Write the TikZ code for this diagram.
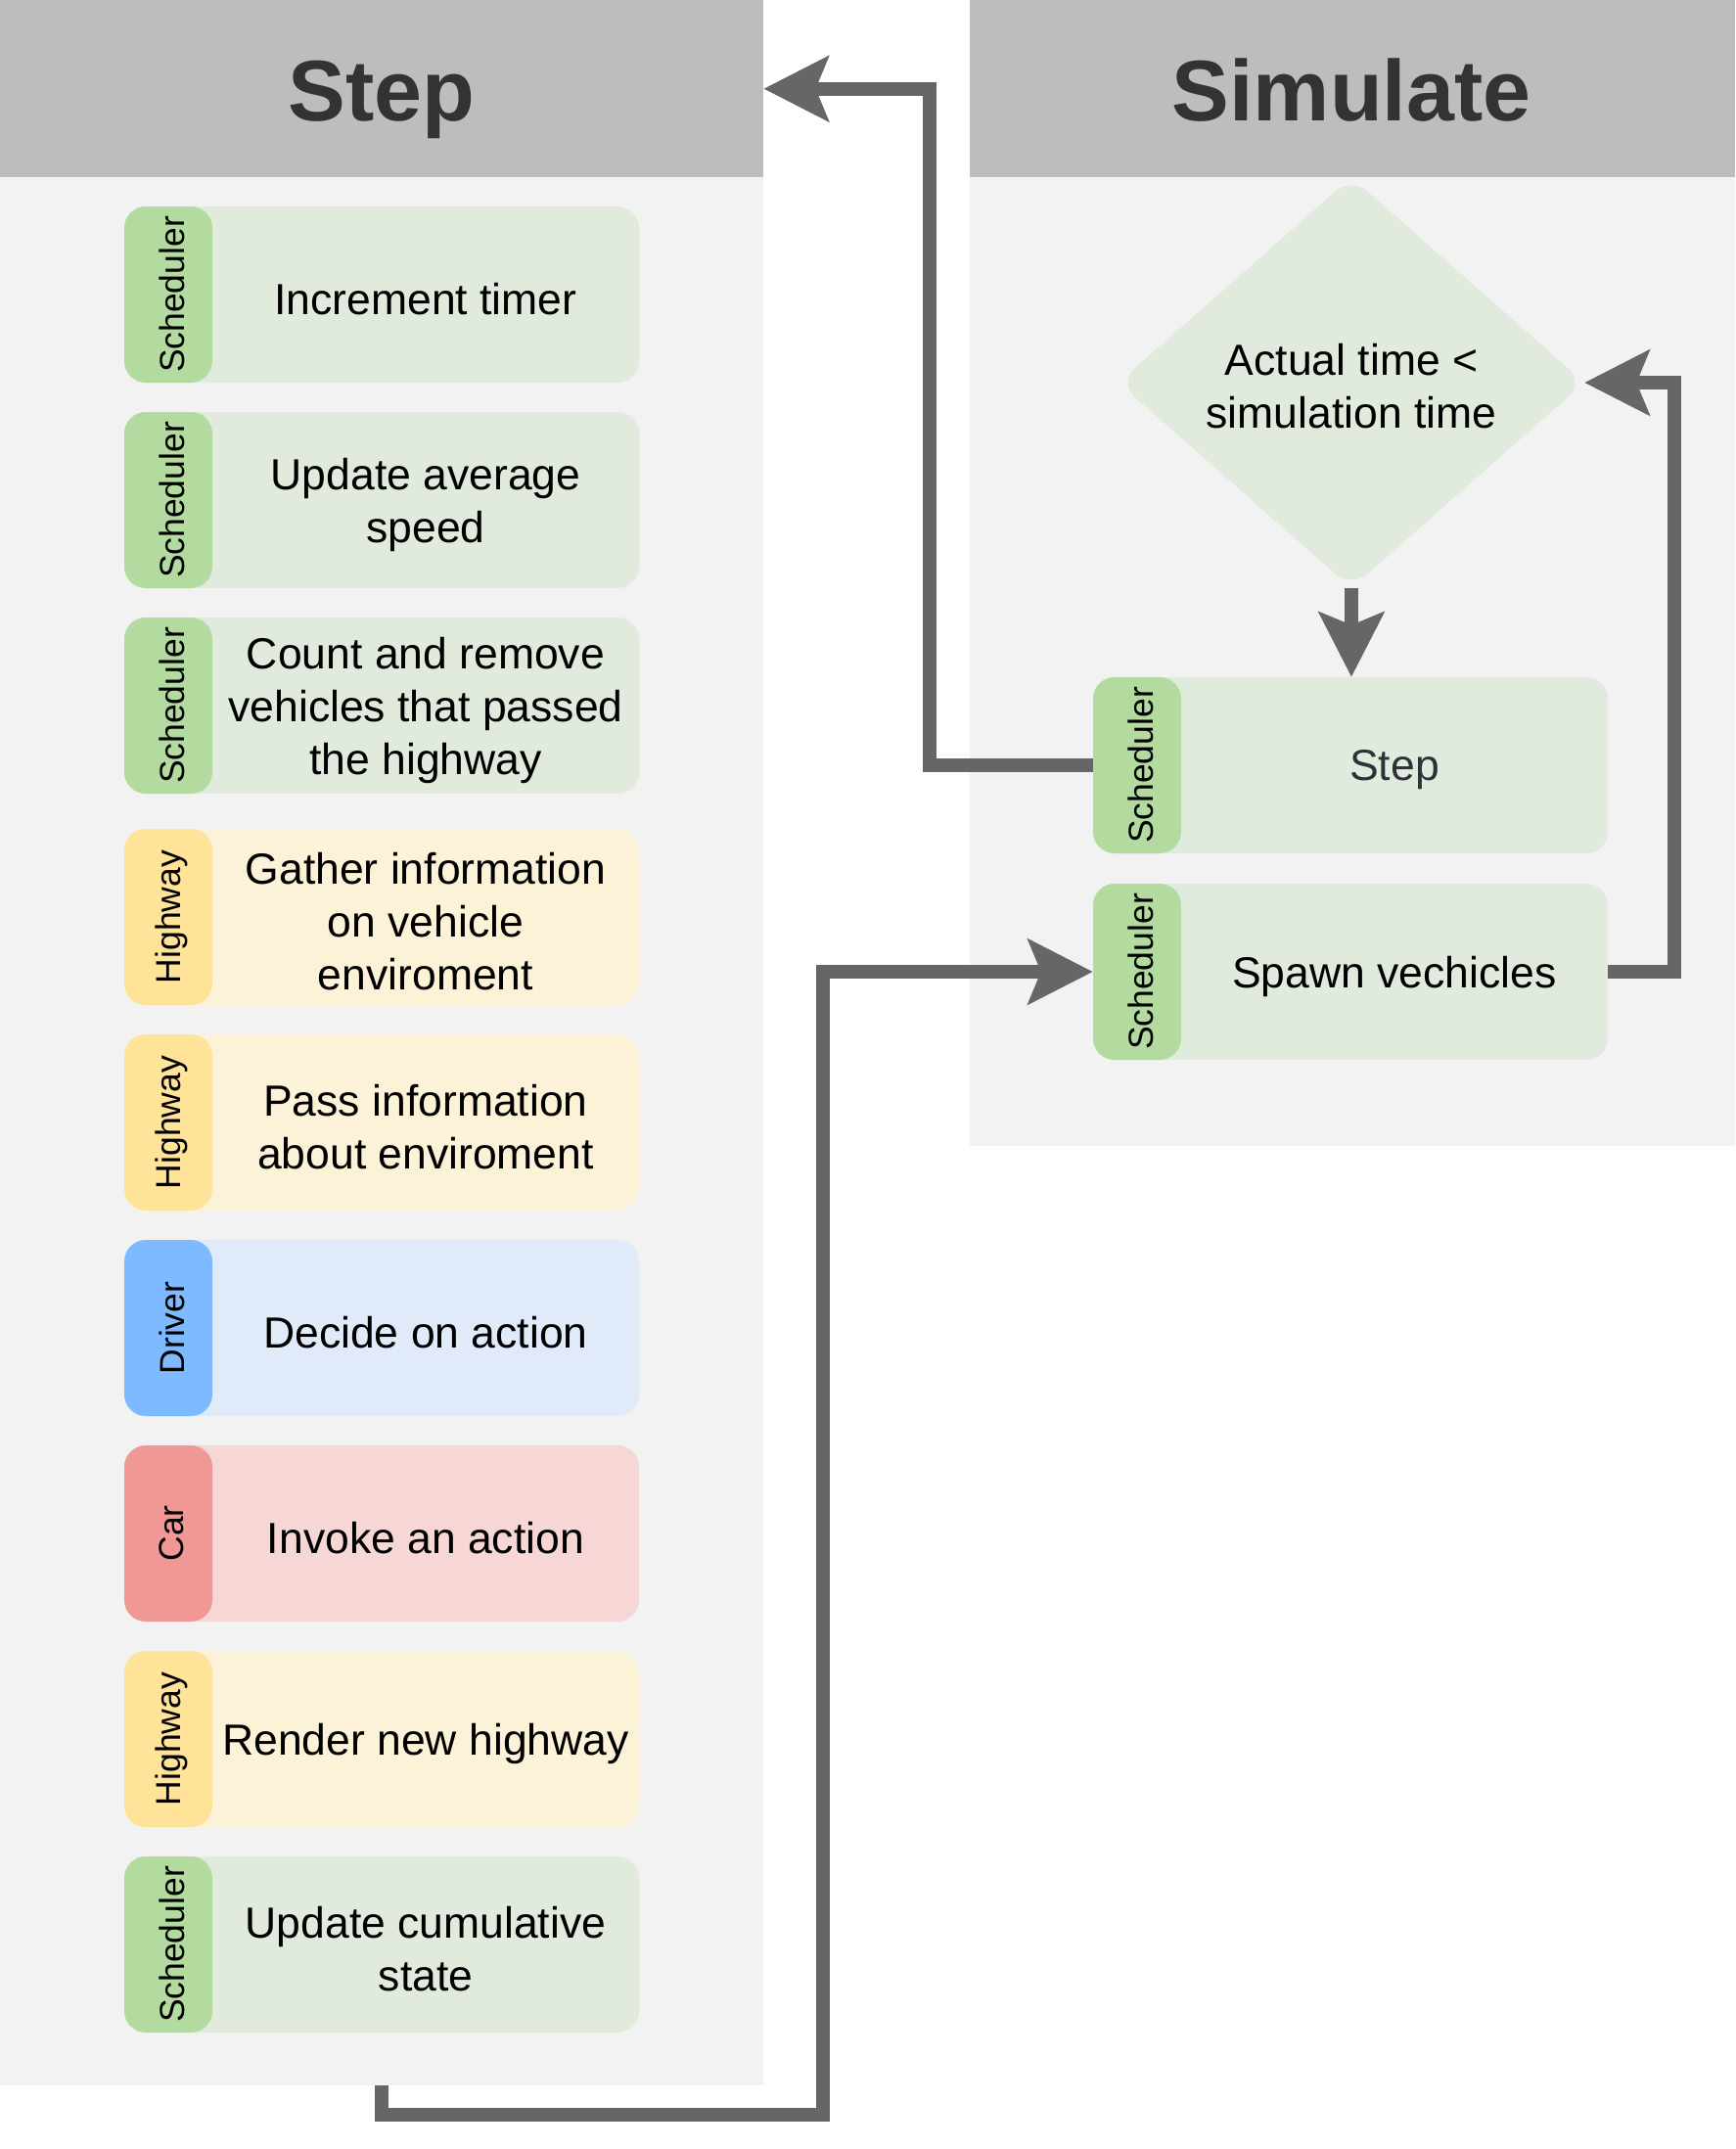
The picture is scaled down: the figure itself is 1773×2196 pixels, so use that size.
\documentclass[tikz,border=0pt]{standalone}
\usepackage{fontspec}
\setmainfont{Liberation Sans}
\usetikzlibrary{arrows.meta,shapes.geometric}
\definecolor{hdr}{RGB}{189,189,189}
\definecolor{pnl}{RGB}{242,242,242}
\definecolor{schS}{RGB}{179,219,160}
\definecolor{schB}{RGB}{224,234,221}
\definecolor{hwS}{RGB}{255,227,153}
\definecolor{hwB}{RGB}{252,242,215}
\definecolor{drS}{RGB}{126,186,255}
\definecolor{drB}{RGB}{224,234,249}
\definecolor{carS}{RGB}{240,152,149}
\definecolor{carB}{RGB}{246,215,214}
\definecolor{lnc}{RGB}{102,102,102}
\definecolor{ttl}{RGB}{51,51,51}
\definecolor{steptxt}{RGB}{45,50,56}
\tikzset{
  body/.style={rectangle, rounded corners=22pt, minimum width=526pt, minimum height=180pt, inner sep=0pt},
  stripbox/.style={rectangle, rounded corners=22pt, minimum width=90pt, minimum height=180pt, inner sep=0pt, anchor=west},
  tasktext/.style={align=center, font=\fontsize{44.5}{54}\selectfont, inner sep=0pt},
  lbl/.style={rotate=90, font=\fontsize{35.5}{42}\selectfont, inner sep=0pt},
  ttlstyle/.style={font=\fontsize{88}{100}\selectfont\bfseries, text=ttl, anchor=base, inner sep=0pt},
  conn/.style={draw=lnc, line width=14pt, -{Stealth[length=66pt,width=66pt,inset=13pt]}},
  panelbox/.style={rectangle, inner sep=0pt, anchor=north west}
}
\newcommand\taskrow[6]{%
  \node[body, fill=#4] (#1) at (390,#2+90) {};
  \node[stripbox, fill=#3] (#1s) at (#1.west) {};
  \node[lbl] (#1l) at ([xshift=3.5pt]#1s.center) {#5};
  \node[tasktext] (#1t) at ([xshift=45pt,yshift=-5pt]#1.center) {#6};
}
\begin{document}
\begin{tikzpicture}[x=1pt,y=-1pt]
\useasboundingbox (0,0) rectangle (1773,2196);
\fill[white] (0,0) rectangle (1773,2196);
% Step panel
\node[panelbox, fill=hdr, minimum width=780pt, minimum height=181pt] (stephead) at (0,0) {};
\node[panelbox, fill=pnl, minimum width=780pt, minimum height=1950pt] (steppanel) at (0,181) {};
\node[ttlstyle] (steptitle) at (390,123) {Step};
% Simulate panel
\node[panelbox, fill=hdr, minimum width=782pt, minimum height=181pt] (simhead) at (991,0) {};
\node[panelbox, fill=pnl, minimum width=782pt, minimum height=990pt] (simpanel) at (991,181) {};
\node[ttlstyle] (simtitle) at (1381,123) {Simulate};
% Step tasks
\taskrow{r1}{211}{schS}{schB}{Scheduler}{Increment timer}
\taskrow{r2}{421}{schS}{schB}{Scheduler}{Update average\\speed}
\taskrow{r3}{631}{schS}{schB}{Scheduler}{Count and remove\\vehicles that passed\\the highway}
\taskrow{r4}{847}{hwS}{hwB}{Highway}{Gather information\\on vehicle\\enviroment}
\taskrow{r5}{1057}{hwS}{hwB}{Highway}{Pass information\\about enviroment}
\taskrow{r6}{1267}{drS}{drB}{Driver}{Decide on action}
\taskrow{r7}{1477}{carS}{carB}{Car}{Invoke an action}
\taskrow{r8}{1687}{hwS}{hwB}{Highway}{Render new highway}
\taskrow{r9}{1897}{schS}{schB}{Scheduler}{Update cumulative\\state}
% Simulate content
\node[diamond, fill=schB, rounded corners=22pt, minimum width=476pt, minimum height=420pt, inner sep=0pt] (dia) at (1381,391) {};
\node[tasktext] (diat) at ([yshift=-4pt]dia.center) {Actual time <\\simulation time};
\node[body, fill=schB] (simstep) at (1380,782) {};
\node[stripbox, fill=schS] (simsteps) at (simstep.west) {};
\node[lbl] (simstepl) at ([xshift=3.5pt]simsteps.center) {Scheduler};
\node[tasktext, text=steptxt] (simstept) at ([xshift=45pt,yshift=-5pt]simstep.center) {Step};
\node[body, fill=schB] (spawn) at (1380,993) {};
\node[stripbox, fill=schS] (spawns) at (spawn.west) {};
\node[lbl] (spawnl) at ([xshift=3.5pt]spawns.center) {Scheduler};
\node[tasktext] (spawnt) at ([xshift=45pt,yshift=-5pt]spawn.center) {Spawn vechicles};
% Connectors
\coordinate (c1) at (950,0);
\coordinate (b1) at (841,2161);
\coordinate (rr) at (1711,0);
\draw[conn] (dia.south) -- (dia.south |- simstep.north);
\draw[conn] (simstep.west) -| (c1 |- stephead.east) -- (stephead.east);
\draw[conn] (steppanel.south) |- (b1) |- (spawn.west);
\draw[conn] (spawn.east) -| (rr |- dia.east) -- (dia.east);
\end{tikzpicture}
\end{document}
